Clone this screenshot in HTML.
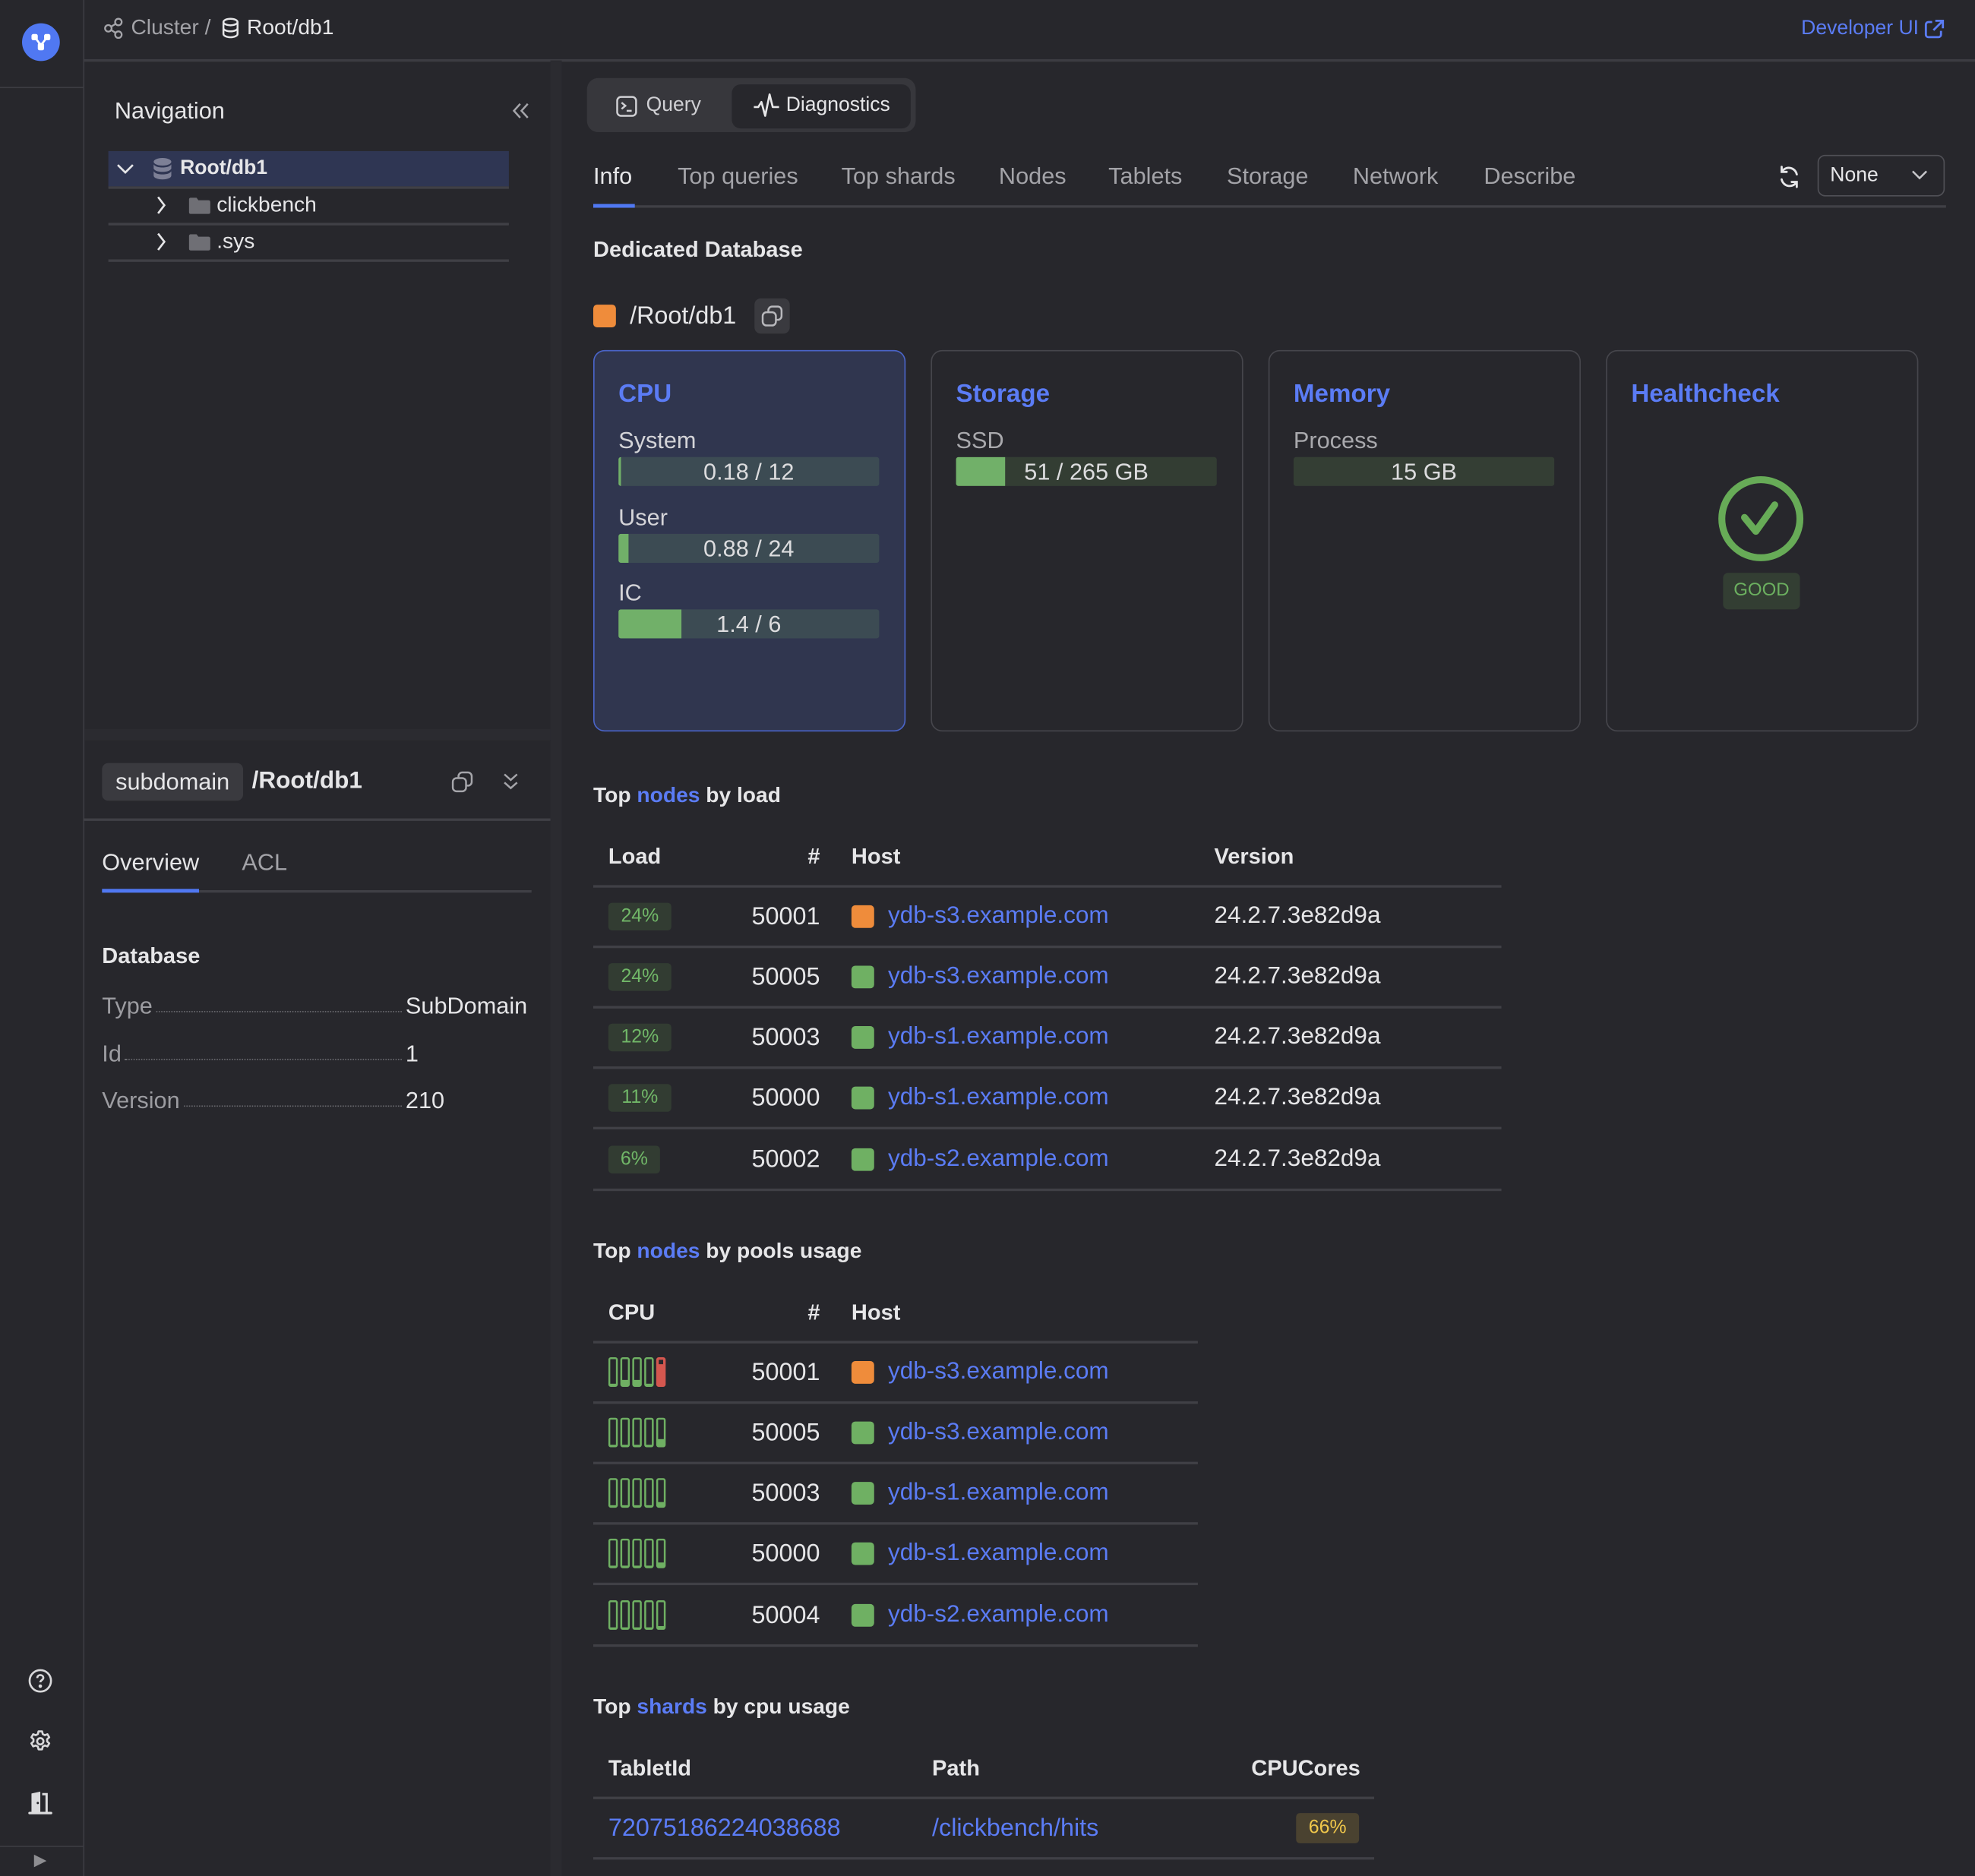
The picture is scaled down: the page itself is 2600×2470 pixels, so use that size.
<!DOCTYPE html>
<html><head><meta charset="utf-8">
<style>
html,body{margin:0;padding:0;background:#27272c;width:2600px;height:2470px;overflow:hidden;}
#s{position:absolute;left:0;top:0;width:1568px;height:1490px;transform:scale(1.65816,1.65772);transform-origin:0 0;font-family:"Liberation Sans",sans-serif;color:#e6e6e8;background:#27272c;overflow:hidden;}
.a{position:absolute;}
.t{position:absolute;white-space:nowrap;line-height:24px;height:24px;}
.ln{position:absolute;height:1.5px;background:#404046;}
.g{color:#a3a3a8;}
.b{color:#5b7cf5;}
.bd{font-weight:bold;}
.card{position:absolute;top:278px;width:245px;height:300px;border:1px solid #46464c;border-radius:9px;box-sizing:border-box;}
.ct{position:absolute;left:19px;top:22px;font-size:20px;font-weight:bold;color:#5b7cf5;line-height:24px;white-space:nowrap;}
.bar{position:absolute;height:23px;border-radius:2px;overflow:hidden;}
.bar .f{position:absolute;left:0;top:0;bottom:0;background:#71b069;}
.bar .v{position:absolute;left:0;right:0;top:0;line-height:23px;text-align:center;font-size:18.5px;color:#dcdcde;white-space:nowrap;}
.bdg{position:absolute;height:22px;border-radius:3px;background:#323c32;color:#71b768;font-size:15px;line-height:22px;text-align:center;}
.sq{position:absolute;width:18px;height:18px;border-radius:3px;background:#6fb063;}
.num{position:absolute;width:100px;text-align:right;font-size:19.5px;line-height:24px;white-space:nowrap;}
.host{position:absolute;font-size:19px;line-height:24px;color:#5b7cf5;white-space:nowrap;}
.ver{position:absolute;font-size:19px;line-height:24px;white-space:nowrap;}
.th{position:absolute;font-size:17.5px;font-weight:bold;line-height:24px;white-space:nowrap;color:#e6e6e8;}
</style></head><body>
<div id="s">

<!-- Sidebar -->
<div class="a" style="left:66px;top:0;width:1px;height:1490px;background:#3c3c42"></div>
<div class="a" style="left:0;top:69px;width:66px;height:1px;background:#3c3c42"></div>
<svg class="a" style="left:17px;top:18px" width="31" height="31" viewBox="0 0 31 31">
<ellipse cx="15.5" cy="15.5" rx="15" ry="15" fill="#5078f2"/>
<g fill="#fff"><rect x="8" y="9" width="5" height="5" rx="1.5"/><rect x="18" y="9" width="5" height="5" rx="1.5"/><rect x="13" y="16" width="5" height="6" rx="1.5"/></g>
<path d="M11 12L15.5 18M20 12L15.5 18" stroke="#fff" stroke-width="1.6"/>
</svg>
<svg class="a" style="left:22px;top:1325px" width="20" height="20" viewBox="0 0 20 20" fill="none" stroke="#d8d8da" stroke-width="1.6"><circle cx="10" cy="10" r="8.5"/><path d="M7.6 7.8c0-1.5 1.1-2.4 2.4-2.4s2.4.9 2.4 2.2c0 1.8-2.4 1.8-2.4 3.6"/><circle cx="10" cy="14.2" r="0.6" fill="#d8d8da"/></svg>
<svg class="a" style="left:22px;top:1373px" width="20" height="20" viewBox="0 0 24 24" fill="none" stroke="#d8d8da" stroke-width="1.9"><path d="M10.3 2.5h3.4l.6 2.6 2 1.1 2.5-.9 1.7 2.9-2 1.8v2.2l2 1.8-1.7 2.9-2.5-.9-2 1.1-.6 2.6h-3.4l-.6-2.6-2-1.1-2.5.9-1.7-2.9 2-1.8V10l-2-1.8 1.7-2.9 2.5.9 2-1.1z" stroke-linejoin="round"/><circle cx="12" cy="12" r="3"/></svg>
<svg class="a" style="left:21px;top:1420px" width="22" height="22" viewBox="0 0 22 22"><path d="M4 20V4.5L11 3v17z" fill="#dcdcde"/><path d="M12.5 5H16v15" fill="none" stroke="#dcdcde" stroke-width="1.8"/><rect x="1.5" y="19" width="19" height="2" rx="1" fill="#dcdcde"/><circle cx="9" cy="12" r="0.9" fill="#27272c"/></svg>
<div class="a" style="left:0;top:1466px;width:66px;height:1px;background:#3c3c42"></div>
<svg class="a" style="left:26px;top:1472px" width="12" height="12" viewBox="0 0 12 12"><path d="M1 1L11 6L1 11z" fill="#8e8e92"/></svg>

<!-- Header -->
<div class="a" style="left:66px;top:47px;width:1502px;height:1.5px;background:#3c3c42"></div>
<svg class="a" style="left:82px;top:14px" width="16" height="17" viewBox="0 0 16 17" fill="none" stroke="#a5a5aa" stroke-width="1.4"><circle cx="4" cy="8.5" r="2.6"/><circle cx="12" cy="3.5" r="2.6"/><circle cx="12" cy="13.5" r="2.6"/><path d="M6.3 7.1L9.7 5M6.3 9.9L9.7 12"/></svg>
<div class="t g" style="left:104px;top:10px;font-size:17px;">Cluster /</div>
<svg class="a" style="left:176px;top:14px" width="14" height="17" viewBox="0 0 14 17" fill="none" stroke="#e6e6e8" stroke-width="1.5"><ellipse cx="7" cy="3.5" rx="5.6" ry="2.6"/><path d="M1.4 3.5v9.5c0 1.4 2.5 2.6 5.6 2.6s5.6-1.2 5.6-2.6V3.5M1.4 8.3c0 1.4 2.5 2.6 5.6 2.6s5.6-1.2 5.6-2.6"/></svg>
<div class="t" style="left:196px;top:10px;font-size:17px;">Root/db1</div>
<div class="t b" style="left:1430px;top:11px;font-size:16px;">Developer UI</div>
<svg class="a" style="left:1527px;top:15px" width="17" height="17" viewBox="0 0 17 17" fill="none" stroke="#5b7cf5" stroke-width="1.7"><path d="M7 2.5H4a2 2 0 0 0-2 2v8a2 2 0 0 0 2 2h8a2 2 0 0 0 2-2v-3"/><path d="M9.5 1.5h6v6M15.5 1.5L8 9"/></svg>

<!-- Left panel -->
<div class="a" style="left:437px;top:48px;width:9px;height:1442px;background:#2b2b30"></div>
<div class="t" style="left:91px;top:76px;font-size:18.5px;">Navigation</div>
<svg class="a" style="left:406px;top:81px" width="15" height="14" viewBox="0 0 15 14" fill="none" stroke="#a5a5aa" stroke-width="1.5"><path d="M7 1.5L2 7l5 5.5M13 1.5L8 7l5 5.5"/></svg>
<div class="a" style="left:86px;top:120px;width:318px;height:28px;background:#2f3653"></div>
<div class="ln" style="left:86px;top:148px;width:318px;"></div>
<div class="ln" style="left:86px;top:177px;width:318px;"></div>
<div class="ln" style="left:86px;top:206px;width:318px;"></div>
<svg class="a" style="left:92px;top:128px" width="15" height="12" viewBox="0 0 15 12" fill="none" stroke="#e6e6e8" stroke-width="1.6"><path d="M1.5 3l6 6 6-6"/></svg>
<svg class="a" style="left:121px;top:125px" width="16" height="18" viewBox="0 0 16 18"><g fill="#7d8096"><ellipse cx="8" cy="3.5" rx="7" ry="3"/><path d="M1 5.5c1 1.8 4 2.5 7 2.5s6-.7 7-2.5V9c-1 1.8-4 2.5-7 2.5S2 10.8 1 9z"/><path d="M1 11c1 1.8 4 2.5 7 2.5s6-.7 7-2.5v3.5c0 1.7-3.1 3-7 3s-7-1.3-7-3z"/></g></svg>
<div class="t bd" style="left:143px;top:122px;font-size:16px;">Root/db1</div>
<svg class="a" style="left:123px;top:155px" width="10" height="16" viewBox="0 0 10 16" fill="none" stroke="#e6e6e8" stroke-width="1.6"><path d="M2.5 1.5l5 6.5-5 6.5"/></svg>
<svg class="a" style="left:150px;top:157px" width="17" height="13" viewBox="0 0 17 13"><path d="M0 1.5A1.5 1.5 0 0 1 1.5 0H6l1.5 2h8A1.5 1.5 0 0 1 17 3.5v8a1.5 1.5 0 0 1-1.5 1.5h-14A1.5 1.5 0 0 1 0 11.5z" fill="#6f6f75"/></svg>
<div class="t" style="left:172px;top:151px;font-size:17px;">clickbench</div>
<svg class="a" style="left:123px;top:184px" width="10" height="16" viewBox="0 0 10 16" fill="none" stroke="#e6e6e8" stroke-width="1.6"><path d="M2.5 1.5l5 6.5-5 6.5"/></svg>
<svg class="a" style="left:150px;top:186px" width="17" height="13" viewBox="0 0 17 13"><path d="M0 1.5A1.5 1.5 0 0 1 1.5 0H6l1.5 2h8A1.5 1.5 0 0 1 17 3.5v8a1.5 1.5 0 0 1-1.5 1.5h-14A1.5 1.5 0 0 1 0 11.5z" fill="#6f6f75"/></svg>
<div class="t" style="left:172px;top:180px;font-size:17px;">.sys</div>

<div class="a" style="left:67px;top:579px;width:370px;height:9px;background:#2b2b30"></div>

<div class="a" style="left:81px;top:606px;width:112px;height:30px;border-radius:5px;background:#3a3a3f"></div>
<div class="t" style="left:81px;top:609px;width:112px;text-align:center;font-size:18.5px;">subdomain</div>
<div class="t bd" style="left:200px;top:609px;font-size:19px;">/Root/db1</div>
<svg class="a" style="left:358px;top:612px" width="18" height="18" viewBox="0 0 18 18" fill="none" stroke="#a5a5aa" stroke-width="1.5"><rect x="6" y="1.5" width="10.5" height="10.5" rx="3"/><rect x="1.5" y="6" width="10.5" height="10.5" rx="3" fill="#27272c"/></svg>
<svg class="a" style="left:399px;top:613px" width="13" height="16" viewBox="0 0 13 16" fill="none" stroke="#a5a5aa" stroke-width="1.5"><path d="M1.5 2l5 4.5 5-4.5M1.5 8.5l5 4.5 5-4.5"/></svg>
<div class="ln" style="left:66px;top:650px;width:371px;"></div>
<div class="t" style="left:81px;top:673px;font-size:18.5px;">Overview</div>
<div class="t g" style="left:192px;top:673px;font-size:18.5px;">ACL</div>
<div class="a" style="left:81px;top:707px;width:341px;height:1.5px;background:#404046"></div>
<div class="a" style="left:81px;top:706px;width:77px;height:3px;background:#5078f2"></div>
<div class="t bd" style="left:81px;top:747px;font-size:17.5px;">Database</div>
<div class="t" style="left:81px;top:787px;font-size:18.5px;color:#9c9ca1;">Type</div>
<div class="a" style="left:124px;top:803px;width:195px;border-bottom:1px dotted #6b6b70"></div>
<div class="t" style="left:322px;top:787px;font-size:18.5px;">SubDomain</div>
<div class="t" style="left:81px;top:825px;font-size:18.5px;color:#9c9ca1;">Id</div>
<div class="a" style="left:99px;top:841px;width:220px;border-bottom:1px dotted #6b6b70"></div>
<div class="t" style="left:322px;top:825px;font-size:18.5px;">1</div>
<div class="t" style="left:81px;top:862px;font-size:18.5px;color:#9c9ca1;">Version</div>
<div class="a" style="left:146px;top:878px;width:173px;border-bottom:1px dotted #6b6b70"></div>
<div class="t" style="left:322px;top:862px;font-size:18.5px;">210</div>

<!-- Main: segmented control -->
<div class="a" style="left:466px;top:62px;width:261px;height:43px;border-radius:9px;background:#37373c"></div>
<div class="a" style="left:581px;top:67px;width:142px;height:35px;border-radius:7px;background:#27272c"></div>
<svg class="a" style="left:489px;top:76px" width="17" height="17" viewBox="0 0 17 17" fill="none" stroke="#d0d0d4" stroke-width="1.5"><rect x="1" y="1" width="15" height="15" rx="3"/><path d="M4.5 5.5l3 2.5-3 2.5M8.5 12h4"/></svg>
<div class="t" style="left:513px;top:72px;font-size:16px;color:#d0d0d4;">Query</div>
<svg class="a" style="left:598px;top:74px" width="21" height="20" viewBox="0 0 21 20" fill="none" stroke="#e6e6e8" stroke-width="1.6" stroke-linejoin="round"><path d="M0.5 11h3.5l2.5-4 3 11 3.5-17 2.5 10h5"/></svg>
<div class="t" style="left:624px;top:72px;font-size:16px;">Diagnostics</div>

<!-- Tabs -->
<div class="t" style="left:471px;top:128px;font-size:18.5px;">Info</div>
<div class="t g" style="left:538px;top:128px;font-size:18.5px;">Top queries</div>
<div class="t g" style="left:668px;top:128px;font-size:18.5px;">Top shards</div>
<div class="t g" style="left:793px;top:128px;font-size:18.5px;">Nodes</div>
<div class="t g" style="left:880px;top:128px;font-size:18.5px;">Tablets</div>
<div class="t g" style="left:974px;top:128px;font-size:18.5px;">Storage</div>
<div class="t g" style="left:1074px;top:128px;font-size:18.5px;">Network</div>
<div class="t g" style="left:1178px;top:128px;font-size:18.5px;">Describe</div>
<div class="a" style="left:471px;top:163px;width:1074px;height:1.5px;background:#404046"></div>
<div class="a" style="left:471px;top:162px;width:33px;height:3px;background:#5078f2"></div>
<svg class="a" style="left:1411px;top:131px" width="19" height="19" viewBox="0 0 19 19" fill="none" stroke="#e6e6e8" stroke-width="1.7" stroke-linecap="round"><path d="M15.5 7.5A6.5 6.5 0 0 0 4 4.8M3.5 11.5A6.5 6.5 0 0 0 15 14.2"/><path d="M3.5 1.5v4h4M15.5 17.5v-4h-4"/></svg>
<div class="a" style="left:1443px;top:123px;width:101px;height:33px;border:1px solid #505056;border-radius:6px;box-sizing:border-box"></div>
<div class="t" style="left:1453px;top:128px;font-size:16px;">None</div>
<svg class="a" style="left:1517px;top:134px" width="14" height="10" viewBox="0 0 14 10" fill="none" stroke="#c8c8cc" stroke-width="1.5"><path d="M1.5 2l5.5 5.5L12.5 2"/></svg>

<div class="t bd" style="left:471px;top:186px;font-size:17.5px;">Dedicated Database</div>
<div class="a" style="left:471px;top:242px;width:18px;height:18px;border-radius:3px;background:#ef8c3b"></div>
<div class="t" style="left:500px;top:239px;font-size:19.5px;">/Root/db1</div>
<div class="a" style="left:599px;top:237px;width:28px;height:28px;border-radius:5px;background:#3a3a3f"></div>
<svg class="a" style="left:604px;top:242px" width="18" height="18" viewBox="0 0 18 18" fill="none" stroke="#b8b8bc" stroke-width="1.5"><rect x="6" y="1.5" width="10.5" height="10.5" rx="3"/><rect x="1.5" y="6" width="10.5" height="10.5" rx="3" fill="#3a3a3f"/></svg>

<!-- Cards -->
<div class="card" style="left:471px;width:248px;height:303px;background:#30364f;border:1.5px solid #4a64c8;">
  <div class="ct">CPU</div>
</div>
<div class="t" style="left:491px;top:338px;font-size:18.5px;color:#d4d4d8;">System</div>
<div class="bar" style="left:491px;top:363px;width:207px;background:#3c4b53"><div class="f" style="width:2px"></div><div class="v">0.18 / 12</div></div>
<div class="t" style="left:491px;top:399px;font-size:18.5px;color:#d4d4d8;">User</div>
<div class="bar" style="left:491px;top:424px;width:207px;background:#3c4b53"><div class="f" style="width:8px"></div><div class="v">0.88 / 24</div></div>
<div class="t" style="left:491px;top:459px;font-size:18.5px;color:#d4d4d8;">IC</div>
<div class="bar" style="left:491px;top:484px;width:207px;background:#3c4b53"><div class="f" style="width:50px"></div><div class="v">1.4 / 6</div></div>

<div class="card" style="left:739px;width:248px;height:303px;"><div class="ct">Storage</div></div>
<div class="t" style="left:759px;top:338px;font-size:18.5px;color:#a9a9ad;">SSD</div>
<div class="bar" style="left:759px;top:363px;width:207px;background:#333d33"><div class="f" style="width:39px"></div><div class="v">51 / 265 GB</div></div>

<div class="card" style="left:1007px;width:248px;height:303px;"><div class="ct">Memory</div></div>
<div class="t" style="left:1027px;top:338px;font-size:18.5px;color:#a9a9ad;">Process</div>
<div class="bar" style="left:1027px;top:363px;width:207px;background:#343e34"><div class="v">15 GB</div></div>

<div class="card" style="left:1275px;width:248px;height:303px;"><div class="ct">Healthcheck</div></div>
<svg class="a" style="left:1362px;top:376px" width="72" height="72" viewBox="0 0 72 72" fill="none" stroke="#67ab57" stroke-width="5.5" stroke-linecap="round" stroke-linejoin="round"><circle cx="36" cy="36" r="31"/><path d="M23 35l9 11 15-21"/></svg>
<div class="a" style="left:1368px;top:455px;width:61px;height:29px;border-radius:4px;background:#333e33;color:#6cb060;font-size:14.5px;line-height:29px;text-align:center;">GOOD</div>

<!-- Top nodes by load -->
<div class="t bd" style="left:471px;top:620px;font-size:17px;">Top <span class="b">nodes</span> by load</div>
<div class="th" style="left:483px;top:668px;">Load</div>
<div class="th" style="left:551px;top:668px;width:100px;text-align:right;">#</div>
<div class="th" style="left:676px;top:668px;">Host</div>
<div class="th" style="left:964px;top:668px;">Version</div>
<div class="ln" style="left:471px;top:703px;width:721px;"></div>

<div class="bdg" style="left:483px;top:717px;width:50px;">24%</div>
<div class="num" style="left:551px;top:716px;">50001</div>
<div class="sq" style="left:676px;top:719px;background:#ef8c3b"></div>
<div class="host" style="left:705px;top:716px;">ydb-s3.example.com</div>
<div class="ver" style="left:964px;top:716px;">24.2.7.3e82d9a</div>
<div class="ln" style="left:471px;top:751px;width:721px;"></div>

<div class="bdg" style="left:483px;top:765px;width:50px;">24%</div>
<div class="num" style="left:551px;top:764px;">50005</div>
<div class="sq" style="left:676px;top:767px;"></div>
<div class="host" style="left:705px;top:764px;">ydb-s3.example.com</div>
<div class="ver" style="left:964px;top:764px;">24.2.7.3e82d9a</div>
<div class="ln" style="left:471px;top:799px;width:721px;"></div>

<div class="bdg" style="left:483px;top:813px;width:50px;">12%</div>
<div class="num" style="left:551px;top:812px;">50003</div>
<div class="sq" style="left:676px;top:815px;"></div>
<div class="host" style="left:705px;top:812px;">ydb-s1.example.com</div>
<div class="ver" style="left:964px;top:812px;">24.2.7.3e82d9a</div>
<div class="ln" style="left:471px;top:847px;width:721px;"></div>

<div class="bdg" style="left:483px;top:861px;width:50px;">11%</div>
<div class="num" style="left:551px;top:860px;">50000</div>
<div class="sq" style="left:676px;top:863px;"></div>
<div class="host" style="left:705px;top:860px;">ydb-s1.example.com</div>
<div class="ver" style="left:964px;top:860px;">24.2.7.3e82d9a</div>
<div class="ln" style="left:471px;top:895px;width:721px;"></div>

<div class="bdg" style="left:483px;top:910px;width:41px;">6%</div>
<div class="num" style="left:551px;top:909px;">50002</div>
<div class="sq" style="left:676px;top:912px;"></div>
<div class="host" style="left:705px;top:909px;">ydb-s2.example.com</div>
<div class="ver" style="left:964px;top:909px;">24.2.7.3e82d9a</div>
<div class="ln" style="left:471px;top:944px;width:721px;"></div>

<!-- Top nodes by pools usage -->
<div class="t bd" style="left:471px;top:982px;font-size:17px;">Top <span class="b">nodes</span> by pools usage</div>
<div class="th" style="left:483px;top:1030px;">CPU</div>
<div class="th" style="left:551px;top:1030px;width:100px;text-align:right;">#</div>
<div class="th" style="left:676px;top:1030px;">Host</div>
<div class="ln" style="left:471px;top:1065px;width:480px;"></div>

<svg class="a" style="left:483px;top:1078px" width="47" height="24" viewBox="0 0 47 24">
<g fill="none" stroke="#6fb063" stroke-width="1.5"><rect x="0.75" y="0.75" width="6" height="22" rx="1.2"/><rect x="10.25" y="0.75" width="6" height="22" rx="1.2"/><rect x="19.75" y="0.75" width="6" height="22" rx="1.2"/><rect x="29.25" y="0.75" width="6" height="22" rx="1.2"/></g>
<g fill="#6fb063"><rect x="0.75" y="21" width="6" height="2"/><rect x="10.25" y="18" width="6" height="5"/><rect x="19.75" y="18" width="6" height="5"/><rect x="29.25" y="21" width="6" height="2"/></g>
<rect x="38.75" y="0.75" width="6" height="22" rx="1.2" fill="#d4574f" stroke="#d4574f" stroke-width="1.5"/><rect x="40" y="2" width="3.5" height="3.5" fill="#27272c"/>
</svg>
<div class="num" style="left:551px;top:1078px;">50001</div>
<div class="sq" style="left:676px;top:1081px;background:#ef8c3b"></div>
<div class="host" style="left:705px;top:1078px;">ydb-s3.example.com</div>
<div class="ln" style="left:471px;top:1113px;width:480px;"></div>

<svg class="a" style="left:483px;top:1126px" width="47" height="24" viewBox="0 0 47 24">
<g fill="none" stroke="#6fb063" stroke-width="1.5"><rect x="0.75" y="0.75" width="6" height="22" rx="1.2"/><rect x="10.25" y="0.75" width="6" height="22" rx="1.2"/><rect x="19.75" y="0.75" width="6" height="22" rx="1.2"/><rect x="29.25" y="0.75" width="6" height="22" rx="1.2"/><rect x="38.75" y="0.75" width="6" height="22" rx="1.2"/></g>
<g fill="#6fb063"><rect x="0.75" y="21.5" width="6" height="1.5"/><rect x="10.25" y="21.5" width="6" height="1.5"/><rect x="19.75" y="21.5" width="6" height="1.5"/><rect x="29.25" y="21.5" width="6" height="1.5"/><rect x="38.75" y="17" width="6" height="6"/></g>
</svg>
<div class="num" style="left:551px;top:1126px;">50005</div>
<div class="sq" style="left:676px;top:1129px;"></div>
<div class="host" style="left:705px;top:1126px;">ydb-s3.example.com</div>
<div class="ln" style="left:471px;top:1161px;width:480px;"></div>

<svg class="a" style="left:483px;top:1174px" width="47" height="24" viewBox="0 0 47 24">
<g fill="none" stroke="#6fb063" stroke-width="1.5"><rect x="0.75" y="0.75" width="6" height="22" rx="1.2"/><rect x="10.25" y="0.75" width="6" height="22" rx="1.2"/><rect x="19.75" y="0.75" width="6" height="22" rx="1.2"/><rect x="29.25" y="0.75" width="6" height="22" rx="1.2"/><rect x="38.75" y="0.75" width="6" height="22" rx="1.2"/></g>
<g fill="#6fb063"><rect x="0.75" y="21.5" width="6" height="1.5"/><rect x="10.25" y="21.5" width="6" height="1.5"/><rect x="19.75" y="21.5" width="6" height="1.5"/><rect x="29.25" y="21.5" width="6" height="1.5"/><rect x="38.75" y="19" width="6" height="4"/></g>
</svg>
<div class="num" style="left:551px;top:1174px;">50003</div>
<div class="sq" style="left:676px;top:1177px;"></div>
<div class="host" style="left:705px;top:1174px;">ydb-s1.example.com</div>
<div class="ln" style="left:471px;top:1209px;width:480px;"></div>

<svg class="a" style="left:483px;top:1222px" width="47" height="24" viewBox="0 0 47 24">
<g fill="none" stroke="#6fb063" stroke-width="1.5"><rect x="0.75" y="0.75" width="6" height="22" rx="1.2"/><rect x="10.25" y="0.75" width="6" height="22" rx="1.2"/><rect x="19.75" y="0.75" width="6" height="22" rx="1.2"/><rect x="29.25" y="0.75" width="6" height="22" rx="1.2"/><rect x="38.75" y="0.75" width="6" height="22" rx="1.2"/></g>
<g fill="#6fb063"><rect x="0.75" y="21.5" width="6" height="1.5"/><rect x="10.25" y="21.5" width="6" height="1.5"/><rect x="19.75" y="21.5" width="6" height="1.5"/><rect x="29.25" y="21.5" width="6" height="1.5"/><rect x="38.75" y="19" width="6" height="4"/></g>
</svg>
<div class="num" style="left:551px;top:1222px;">50000</div>
<div class="sq" style="left:676px;top:1225px;"></div>
<div class="host" style="left:705px;top:1222px;">ydb-s1.example.com</div>
<div class="ln" style="left:471px;top:1257px;width:480px;"></div>

<svg class="a" style="left:483px;top:1271px" width="47" height="24" viewBox="0 0 47 24">
<g fill="none" stroke="#6fb063" stroke-width="1.5"><rect x="0.75" y="0.75" width="6" height="22" rx="1.2"/><rect x="10.25" y="0.75" width="6" height="22" rx="1.2"/><rect x="19.75" y="0.75" width="6" height="22" rx="1.2"/><rect x="29.25" y="0.75" width="6" height="22" rx="1.2"/><rect x="38.75" y="0.75" width="6" height="22" rx="1.2"/></g>
<g fill="#6fb063"><rect x="0.75" y="21.5" width="6" height="1.5"/><rect x="10.25" y="21.5" width="6" height="1.5"/><rect x="19.75" y="21.5" width="6" height="1.5"/><rect x="29.25" y="21.5" width="6" height="1.5"/><rect x="38.75" y="20.5" width="6" height="2.5"/></g>
</svg>
<div class="num" style="left:551px;top:1271px;">50004</div>
<div class="sq" style="left:676px;top:1274px;"></div>
<div class="host" style="left:705px;top:1271px;">ydb-s2.example.com</div>
<div class="ln" style="left:471px;top:1306px;width:480px;"></div>

<!-- Top shards -->
<div class="t bd" style="left:471px;top:1344px;font-size:17px;">Top <span class="b">shards</span> by cpu usage</div>
<div class="th" style="left:483px;top:1392px;">TabletId</div>
<div class="th" style="left:740px;top:1392px;">Path</div>
<div class="th" style="left:900px;top:1392px;width:180px;text-align:right;">CPUCores</div>
<div class="ln" style="left:471px;top:1427px;width:620px;"></div>
<div class="host" style="left:483px;top:1440px;font-size:19.5px;">72075186224038688</div>
<div class="host" style="left:740px;top:1440px;font-size:19.5px;">/clickbench/hits</div>
<div class="a" style="left:1029px;top:1440px;width:50px;height:24px;border-radius:3px;background:#4a4230;color:#f0c74b;font-size:15px;line-height:24px;text-align:center;">66%</div>
<div class="ln" style="left:471px;top:1475px;width:620px;"></div>

</div>
</body></html>
